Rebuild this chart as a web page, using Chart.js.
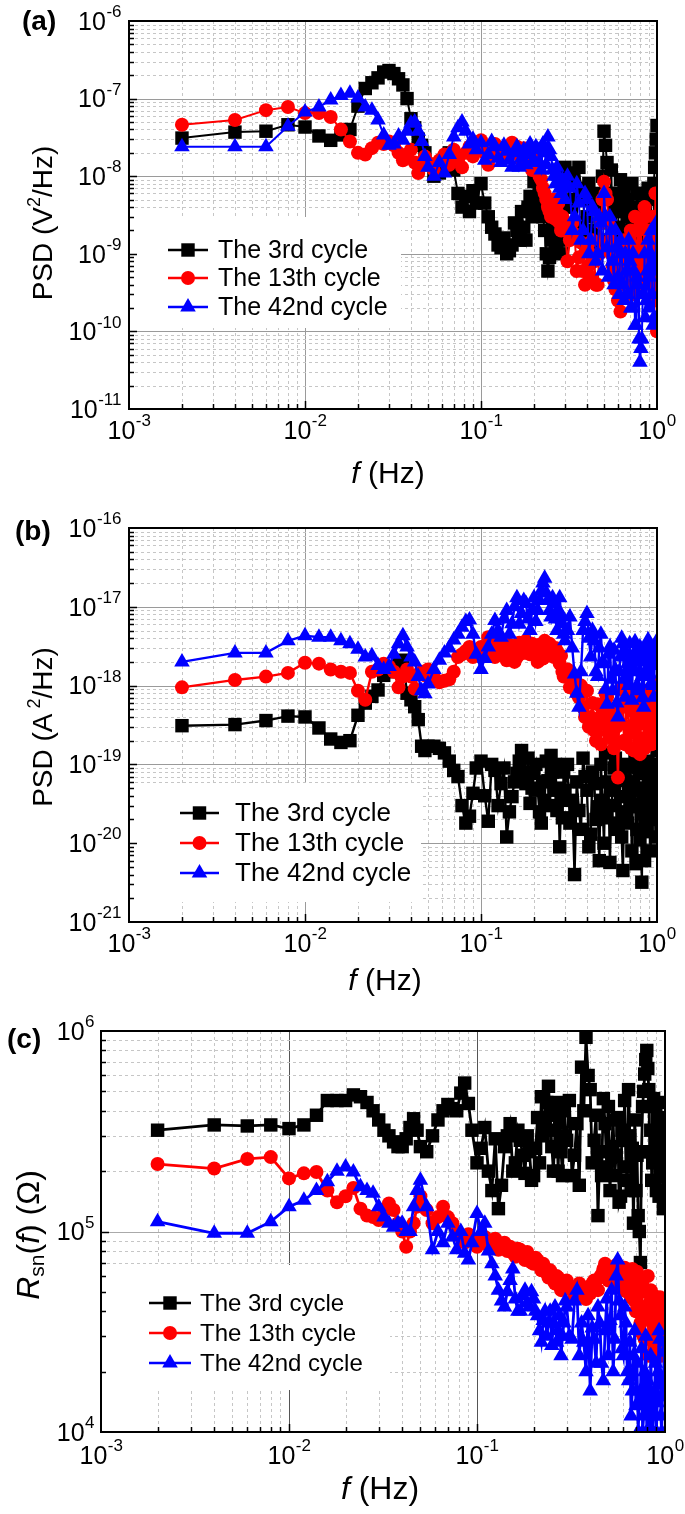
<!DOCTYPE html>
<html>
<head>
<meta charset="utf-8">
<script src="https://cdn.jsdelivr.net/npm/chart.js@4.4.0/dist/chart.umd.min.js"></script>
<style>
html, body { margin: 0; padding: 0; background: #fff; }
#wrap { position: relative; width: 685px; height: 1514px; }
canvas { position: absolute; left: 0; }
</style>
</head>
<body>
<div id="wrap">
  <canvas id="chartA" width="685" height="500" style="top:0px"></canvas>
  <canvas id="chartB" width="685" height="500" style="top:500px"></canvas>
  <canvas id="chartC" width="685" height="514" style="top:1000px"></canvas>
</div>
<script>
// frequency grid (Hz), shared by all series
var freq = [
  0.002,0.004,0.006,0.008,0.010,0.012,0.014,0.016,0.018,0.020,
  0.022,0.024,0.026,0.028,0.030,0.032,0.034,0.036,0.038,0.040,
  0.042,0.044,0.046,0.048,0.050,0.054,0.058,0.062,0.066,0.070,
  0.074,0.078,0.082,0.086,0.090,0.094,
  0.100,0.105,0.110,0.115,0.120,0.125,0.130,0.135,0.140,0.145,
  0.150,0.155,0.160,0.165,0.170,0.175,0.180,0.185,0.190,0.195,
  0.200,0.205,0.210,0.215,0.220,0.225,0.230,0.235,0.240,0.245,
  0.250,0.255,0.260,0.265,0.270,0.275,0.280,0.285,0.290,0.295,
  0.30,0.31,0.32,0.33,0.34,0.35,0.36,0.37,0.38,0.39,
  0.40,0.41,0.42,0.43,0.44,0.45,0.46,0.47,0.48,0.49,
  0.50,0.51,0.52,0.53,0.54,0.55,0.56,0.57,0.58,0.59,
  0.60,0.61,0.62,0.63,0.64,0.65,0.66,0.67,0.68,0.69,
  0.70,0.71,0.72,0.73,0.74,0.75,0.76,0.77,0.78,0.79,
  0.80,0.81,0.82,0.83,0.84,0.85,0.86,0.87,0.88,0.89,
  0.90,0.91,0.92,0.93,0.94,0.95,0.96,0.97,0.98,0.99,
  1.00
];

var seriesLabels = ['The 3rd cycle', 'The 13th cycle', 'The 42nd cycle'];

// (a) voltage PSD, V^2/Hz
var psdV3 = [
  3.1e-8,3.7e-8,3.8e-8,4.6e-8,4.3e-8,3.3e-8,2.9e-8,3.4e-8,4.0e-8,8.0e-8,
  1.35e-7,1.6e-7,1.85e-7,2.2e-7,2.3e-7,2.1e-7,1.8e-7,1.5e-7,1.0e-7,5.5e-8,
  4.2e-8,3.0e-8,2.5e-8,2.0e-8,1.4e-8,1.0e-8,1.1e-8,1.6e-8,2.0e-8,1.2e-8,
  6.0e-9,4.0e-9,5.5e-9,3.5e-9,6.5e-9,4.5e-9,
  8.0e-9,4.5e-9,3.0e-9,2.2e-9,1.8e-9,1.3e-9,1.2e-9,1.6e-9,1.0e-9,1.1e-9,
  1.3e-9,2.5e-9,2.0e-9,1.5e-9,3.5e-9,2.2e-9,1.5e-9,4.0e-9,5.5e-9,3.0e-9,
  8.5e-9,5.0e-9,4.0e-9,7.0e-9,6.0e-9,3.0e-9,2.0e-9,1.0e-9,6.0e-10,9.0e-10,
  1.5e-9,2.5e-9,3.5e-9,1.2e-9,1.8e-9,3.0e-9,2.5e-9,1.5e-9,1.0e-9,4.0e-9,
  1.3e-8,4.0e-9,8.0e-9,1.1e-8,5.0e-9,2.5e-9,1.3e-8,7.0e-9,6.0e-9,1.6e-9,
  3.0e-9,8.0e-9,5.0e-9,1.2e-9,2.0e-9,6.0e-9,4.0e-9,1.5e-9,2.5e-9,1.0e-8,
  3.8e-8,2.5e-8,1.5e-8,6.0e-9,3.0e-9,1.2e-8,1.8e-9,4.0e-9,6.0e-9,1.3e-9,
  2.2e-9,5.0e-9,9.0e-9,1.8e-9,3.5e-9,7.0e-9,1.5e-9,1.1e-9,5.0e-9,3.0e-9,
  2.0e-9,1.3e-9,8.0e-9,4.0e-9,2.5e-9,1.0e-9,1.2e-9,6.0e-9,4.0e-9,1.3e-9,
  1.6e-9,3.0e-9,6.0e-9,1.0e-9,2.0e-9,4.0e-9,1.1e-9,2.5e-9,3.0e-9,7.0e-9,
  1.5e-9,1.2e-9,5.0e-9,3.0e-9,2.0e-9,1.0e-9,8.0e-9,1.3e-8,2.0e-8,3.0e-8,
  4.5e-8
];
var psdV13 = [
  4.6e-8,5.3e-8,7.1e-8,7.8e-8,6.5e-8,6.5e-8,5.8e-8,4.0e-8,2.8e-8,2.0e-8,
  1.9e-8,2.3e-8,2.7e-8,2.6e-8,2.8e-8,2.5e-8,2.0e-8,1.6e-8,1.9e-8,2.2e-8,
  1.5e-8,1.1e-8,1.4e-8,1.8e-8,1.5e-8,1.2e-8,1.6e-8,1.9e-8,1.4e-8,2.2e-8,
  1.7e-8,1.3e-8,2.0e-8,2.4e-8,1.8e-8,2.5e-8,
  2.9e-8,2.0e-8,1.4e-8,1.8e-8,2.6e-8,2.3e-8,2.2e-8,1.9e-8,1.8e-8,2.4e-8,
  2.7e-8,2.0e-8,2.4e-8,1.9e-8,1.6e-8,2.3e-8,2.1e-8,1.7e-8,1.5e-8,1.2e-8,
  1.9e-8,1.5e-8,1.3e-8,1.0e-8,9.0e-9,7.0e-9,6.0e-9,5.0e-9,4.0e-9,3.5e-9,
  3.0e-9,4.0e-9,5.0e-9,2.8e-9,3.5e-9,4.5e-9,2.5e-9,2.0e-9,3.0e-9,2.5e-9,
  2.0e-9,8.0e-10,1.5e-9,2.5e-9,1.8e-9,6.0e-10,9.0e-10,1.4e-9,6.0e-10,4.0e-10,
  1.2e-9,7.0e-10,5.0e-10,1.5e-9,8.0e-10,4.0e-10,4.0e-10,1.0e-9,2.5e-9,5.0e-9,
  8.5e-9,6.0e-9,5.0e-9,2.5e-9,1.5e-9,1.0e-9,7.0e-10,4.5e-10,3.5e-10,6.0e-10,
  2.5e-10,4.0e-10,1.8e-10,9.0e-10,4.0e-10,1.5e-9,8.0e-10,4.0e-10,1.5e-9,9.0e-10,
  6.0e-10,2.0e-9,3.0e-10,7.0e-10,1.0e-9,3.0e-9,5.0e-10,1.2e-9,2.0e-9,4.0e-10,
  8.0e-10,2.5e-9,4.0e-10,6.0e-10,1.2e-9,4.0e-9,3.0e-9,7.0e-10,1.0e-9,2.0e-9,
  5.0e-10,1.5e-9,2.0e-9,4.0e-10,8.0e-10,3.0e-9,2.5e-10,1.0e-9,6.0e-9,3.0e-10,
  1.0e-10
];
var psdV42 = [
  2.4e-8,2.4e-8,2.4e-8,4.4e-8,6.7e-8,7.8e-8,9.6e-8,1.1e-7,1.17e-7,1.02e-7,
  7.8e-8,7.1e-8,5.3e-8,3.4e-8,2.5e-8,2.6e-8,3.3e-8,2.9e-8,3.8e-8,4.8e-8,
  5.0e-8,3.8e-8,2.8e-8,1.8e-8,1.3e-8,1.0e-8,1.5e-8,1.1e-8,1.9e-8,3.2e-8,
  4.2e-8,5.0e-8,3.8e-8,2.6e-8,3.0e-8,2.2e-8,
  2.7e-8,1.6e-8,1.9e-8,2.8e-8,2.4e-8,1.7e-8,1.5e-8,2.5e-8,2.1e-8,1.6e-8,
  1.3e-8,2.0e-8,2.4e-8,1.3e-8,1.7e-8,2.2e-8,1.4e-8,1.9e-8,2.6e-8,1.5e-8,
  1.6e-8,2.4e-8,2.2e-8,1.5e-8,1.2e-8,2.6e-8,2.0e-8,1.4e-8,3.2e-8,2.2e-8,
  1.8e-8,1.2e-8,1.0e-8,8.0e-9,1.3e-8,1.0e-8,7.0e-9,6.0e-9,9.0e-9,8.0e-9,
  5.0e-9,1.0e-8,7.0e-9,2.0e-9,3.0e-9,8.0e-9,4.5e-9,1.5e-9,2.0e-9,6.0e-9,
  5.0e-9,1.0e-9,1.5e-9,4.0e-9,3.5e-9,8.0e-10,1.0e-9,3.0e-9,2.5e-9,6.0e-10,
  6.0e-9,3.0e-9,1.2e-9,5.0e-10,3.0e-9,2.0e-9,8.0e-10,4.0e-10,2.0e-9,1.2e-9,
  5.0e-10,3.0e-10,1.5e-9,1.0e-9,4.0e-10,2.5e-10,1.0e-9,6.0e-10,3.0e-10,1.5e-9,
  8.0e-10,2.0e-10,2.0e-10,1.0e-9,6.0e-10,1.2e-10,1.2e-10,5.0e-10,4.0e-10,8.0e-11,
  4.0e-11,6.0e-11,8.0e-11,3.0e-10,3.0e-10,1.0e-9,1.5e-10,2.5e-10,6.0e-10,1.5e-9,
  2.0e-10,5.0e-10,1.0e-9,2.0e-9,3.0e-10,1.2e-10,1.5e-10,6.0e-10,8.0e-10,2.5e-9,
  2.0e-9
];

// (b) current PSD, A^2/Hz
var psdA3 = [
  3.1e-19,3.2e-19,3.6e-19,4.1e-19,4.0e-19,2.9e-19,2.1e-19,1.9e-19,2.0e-19,4.2e-19,
  6.0e-19,7.3e-19,8.8e-19,1.35e-18,1.5e-18,1.6e-18,1.9e-18,2.1e-18,8.0e-19,6.6e-19,
  5.4e-19,3.7e-19,1.7e-19,1.5e-19,1.7e-19,1.7e-19,1.6e-19,1.4e-19,1.1e-19,8.4e-20,
  7.0e-20,3.0e-20,1.8e-20,2.2e-20,4.3e-20,9.0e-20,
  1.1e-19,4.0e-20,1.9e-20,1.0e-19,8.4e-20,3.0e-20,5.7e-20,9.0e-20,1.2e-20,2.5e-20,
  3.9e-20,6.0e-20,7.7e-20,1.1e-19,1.5e-19,8.0e-20,5.7e-20,1.2e-19,3.2e-20,5.0e-20,
  7.7e-20,1.0e-19,4.7e-20,2.5e-20,1.8e-20,6.0e-20,3.5e-20,1.1e-19,6.2e-20,3.0e-20,
  1.3e-19,8.0e-20,4.7e-20,1.0e-19,2.6e-20,5.0e-20,9.0e-21,3.5e-20,2.1e-20,8.0e-20,
  4.7e-20,1.0e-19,1.8e-20,3.5e-20,4.0e-21,6.0e-20,2.6e-20,1.5e-20,1.2e-19,7.0e-20,
  4.7e-20,9.0e-21,1.3e-20,8.0e-20,5.7e-20,2.0e-20,2.9e-20,6.0e-21,1.0e-19,3.5e-20,
  1.0e-20,1.4e-19,2.1e-20,6.0e-20,5.7e-21,3.0e-20,4.7e-20,9.0e-20,1.2e-19,1.5e-20,
  1.8e-20,7.0e-20,3.9e-20,1.2e-20,4.5e-21,2.5e-20,6.2e-20,1.0e-19,1.8e-20,5.0e-20,
  9.2e-20,3.0e-20,8.0e-21,6.0e-20,2.9e-20,1.2e-19,5.5e-21,1.5e-20,4.7e-20,8.0e-20,
  1.1e-20,5.0e-20,3.2e-21,9.0e-20,2.6e-20,6.0e-21,7.7e-20,3.5e-20,1.4e-20,1.1e-19,
  4.7e-20,2.0e-20,8.0e-21,6.0e-20,1.0e-19,3.0e-20,2.6e-20,7.0e-20,1.2e-20,9.0e-20,
  1.5e-19
];
var psdA13 = [
  9.5e-19,1.18e-18,1.3e-18,1.45e-18,1.95e-18,1.9e-18,1.6e-18,1.5e-18,1.45e-18,8.6e-19,
  6.6e-19,1.5e-18,1.6e-18,1.9e-18,1.75e-18,1.5e-18,9.5e-19,1.3e-18,1.6e-18,1.3e-18,
  9.1e-19,1.4e-18,1.5e-18,1.35e-18,1.6e-18,1.3e-18,1.1e-18,1.15e-18,1.2e-18,1.5e-18,
  2.3e-18,2.5e-18,2.75e-18,3.1e-18,2.3e-18,2.5e-18,
  3.1e-18,2.5e-18,4.1e-18,3.0e-18,2.3e-18,3.8e-18,3.4e-18,2.6e-18,2.1e-18,3.3e-18,
  2.75e-18,2.0e-18,2.3e-18,3.5e-18,3.1e-18,2.6e-18,3.7e-18,2.9e-18,2.5e-18,3.4e-18,
  3.1e-18,2.4e-18,2.0e-18,3.3e-18,2.75e-18,2.2e-18,3.7e-18,2.9e-18,2.4e-18,3.4e-18,
  3.1e-18,2.6e-18,2.3e-18,3.0e-18,2.75e-18,2.2e-18,1.9e-18,2.4e-18,1.5e-18,1.3e-18,
  1.3e-18,1.6e-18,9.5e-19,1.1e-18,1.3e-18,8.0e-19,7.1e-19,1.0e-18,5.3e-19,4.0e-19,
  8.6e-19,3.0e-19,4.0e-19,6.0e-19,2.7e-19,2.0e-19,5.8e-19,3.5e-19,1.8e-19,4.5e-19,
  3.3e-19,8.0e-19,7.1e-19,2.5e-19,2.2e-19,5.0e-19,4.0e-19,1.6e-19,1.8e-19,3.0e-19,
  6.8e-20,5.0e-19,3.3e-19,9.0e-19,5.8e-19,2.0e-19,1.8e-19,6.0e-19,8.6e-19,3.0e-19,
  2.7e-19,1.6e-19,4.8e-19,7.0e-19,1.5e-19,2.5e-19,3.6e-19,5.0e-19,7.1e-19,2.0e-19,
  1.35e-19,4.0e-19,3.3e-19,8.0e-19,5.3e-19,1.6e-19,2.2e-19,6.0e-19,7.1e-19,3.0e-19,
  3.3e-19,9.0e-19,5.8e-19,1.8e-19,2.7e-19,6.0e-19,8.6e-19,2.5e-19,4.0e-19,7.0e-19,
  1.05e-18
];
var psdA42 = [
  2.0e-18,2.6e-18,2.6e-18,3.7e-18,4.3e-18,4.1e-18,4.1e-18,3.7e-18,3.4e-18,2.9e-18,
  2.3e-18,2.4e-18,1.8e-18,1.6e-18,1.75e-18,2.5e-18,3.4e-18,4.3e-18,3.1e-18,2.3e-18,
  2.0e-18,1.3e-18,8.6e-19,7.9e-19,1.05e-18,1.6e-18,2.1e-18,2.6e-18,3.0e-18,3.8e-18,
  4.5e-18,5.5e-18,6.5e-18,6.8e-18,4.5e-18,2.5e-18,
  1.6e-18,2.2e-18,3.1e-18,4.5e-18,6.7e-18,5.0e-18,4.1e-18,7.0e-18,9.0e-18,4.5e-18,
  6.1e-18,1.0e-17,1.3e-17,6.0e-18,8.2e-18,1.2e-17,1.1e-17,7.0e-18,5.0e-18,9.0e-18,
  1.3e-17,6.5e-18,9.0e-18,1.2e-17,1.6e-17,2.0e-17,2.3e-17,1.5e-17,1.2e-17,9.0e-18,
  7.4e-18,1.3e-17,1.1e-17,7.0e-18,5.0e-18,9.0e-18,1.3e-17,8.0e-18,6.1e-18,4.5e-18,
  3.7e-18,5.0e-18,7.4e-18,3.0e-18,1.4e-18,8.0e-19,5.3e-19,1.5e-18,5.0e-18,6.5e-18,
  8.2e-18,4.0e-18,2.3e-18,5.0e-18,3.7e-18,1.5e-18,1.3e-18,3.0e-18,4.5e-18,2.0e-18,
  1.9e-18,9.0e-19,5.8e-19,2.5e-18,3.1e-18,1.2e-18,8.6e-19,2.8e-18,1.6e-18,6.0e-19,
  4.0e-19,1.5e-18,2.3e-18,4.0e-18,3.4e-18,1.2e-18,7.1e-19,2.6e-18,1.9e-18,1.0e-18,
  3.4e-18,1.5e-18,6.5e-19,2.2e-18,1.6e-18,3.6e-18,2.8e-18,1.0e-18,8.6e-19,2.4e-18,
  3.1e-18,2.0e-18,1.3e-18,7.0e-19,5.3e-19,3.0e-18,2.5e-18,1.6e-18,1.3e-18,3.8e-18,
  3.4e-18,1.4e-18,1.05e-18,2.8e-18,2.3e-18,1.0e-18,7.1e-19,2.0e-18,3.1e-18,1.8e-18,
  3.7e-18
];

// (c) noise resistance, ohm
var rsn3 = [
  3.2e5,3.4e5,3.36e5,3.4e5,3.26e5,3.4e5,3.8e5,4.5e5,4.5e5,4.5e5,
  4.8e5,4.7e5,4.4e5,4.0e5,3.6e5,3.2e5,3.0e5,2.8e5,2.65e5,2.65e5,
  2.9e5,3.3e5,3.65e5,3.2e5,2.65e5,2.5e5,3.0e5,3.6e5,4.0e5,4.3e5,
  4.1e5,4.0e5,4.9e5,5.5e5,4.35e5,3.2e5,
  2.2e5,2.6e5,3.3e5,2.0e5,1.6e5,2.9e5,1.3e5,1.7e5,2.65e5,3.0e5,
  3.45e5,2.0e5,2.2e5,3.2e5,2.85e5,2.4e5,1.95e5,3.0e5,2.5e5,1.8e5,
  1.9e5,2.6e5,3.7e5,2.2e5,4.7e5,3.0e5,3.45e5,4.4e5,5.3e5,3.8e5,
  2.65e5,2.0e5,3.2e5,4.4e5,2.0e5,3.5e5,2.5e5,1.9e5,4.0e5,3.0e5,
  2.85e5,4.5e5,1.9e5,2.4e5,3.45e5,1.7e5,6.6e5,4.0e5,9.3e5,6.0e5,
  5.1e5,2.2e5,2.85e5,3.8e5,1.2e5,2.5e5,1.9e5,4.6e5,3.45e5,2.1e5,
  4.2e5,1.6e5,2.65e5,3.6e5,1.9e5,2.4e5,3.7e5,1.4e5,1.5e5,3.2e5,
  2.85e5,4.5e5,2.1e5,1.8e5,5.1e5,3.0e5,1.6e5,2.6e5,1.1e5,3.6e5,
  1.6e5,2.4e5,1.2e5,1.0e5,7.0e4,2.5e5,4.2e5,5.0e5,6.1e5,7.2e5,
  8.0e5,6.5e5,5.1e5,2.5e5,3.2e5,1.8e5,2.2e5,4.6e5,4.2e5,2.6e5,
  1.6e5,3.7e5,2.85e5,1.5e5,1.9e5,4.4e5,3.45e5,2.0e5,1.3e5,3.0e5,
  2.35e5
];
var rsn13 = [
  2.17e5,2.06e5,2.3e5,2.35e5,1.84e5,1.95e5,1.98e5,1.6e5,1.4e5,1.5e5,
  1.65e5,1.3e5,1.2e5,1.18e5,1.14e5,1.28e5,1.38e5,1.28e5,1.1e5,1.0e5,
  8.4e4,1.0e5,1.1e5,1.33e5,1.5e5,1.28e5,1.1e5,1.18e5,1.33e5,1.18e5,
  1.1e5,1.0e5,9.4e4,8.8e4,9.7e4,9.0e4,
  8.4e4,9.0e4,9.4e4,8.5e4,8.8e4,9.2e4,8.1e4,8.6e4,8.8e4,8.0e4,
  8.4e4,7.8e4,7.5e4,8.2e4,8.1e4,7.6e4,7.2e4,7.9e4,7.5e4,7.0e4,
  6.9e4,7.4e4,7.2e4,6.8e4,6.4e4,6.9e4,6.6e4,6.2e4,5.9e4,6.4e4,
  6.1e4,5.7e4,5.5e4,6.0e4,5.9e4,5.4e4,5.1e4,5.6e4,5.5e4,5.2e4,
  5.7e4,5.3e4,5.1e4,4.8e4,4.7e4,5.5e4,5.3e4,4.9e4,4.6e4,5.2e4,
  4.9e4,5.5e4,5.7e4,5.2e4,5.1e4,5.9e4,6.1e4,6.5e4,6.9e4,6.2e4,
  5.7e4,6.6e4,6.4e4,5.8e4,5.5e4,6.8e4,6.6e4,5.3e4,5.9e4,6.2e4,
  5.1e4,6.6e4,6.4e4,5.0e4,5.5e4,6.0e4,4.7e4,6.5e4,5.9e4,4.5e4,
  4.0e4,6.3e4,5.1e4,3.2e4,3.5e4,5.6e4,4.2e4,3.0e4,2.9e4,5.0e4,
  3.8e4,6.0e4,2.4e4,4.4e4,5.1e4,3.0e4,3.5e4,4.8e4,2.8e4,3.6e4,
  4.2e4,2.6e4,3.5e4,4.6e4,4.7e4,2.4e4,3.0e4,4.4e4,4.0e4,3.2e4,
  2.9e4
];
var rsn42 = [
  1.12e5,9.8e4,9.8e4,1.12e5,1.33e5,1.43e5,1.6e5,1.77e5,2.0e5,2.1e5,
  1.98e5,1.67e5,1.6e5,1.55e5,1.33e5,1.18e5,1.1e5,1.05e5,1.1e5,1.1e5,
  1.0e5,1.0e5,1.33e5,1.6e5,1.8e5,1.33e5,8.1e4,1.0e5,8.8e4,1.1e5,
  9.4e4,8.1e4,1.0e5,7.8e4,7.2e4,8.8e4,
  1.23e5,1.0e5,1.1e5,8.0e4,6.9e4,6.0e4,5.1e4,4.5e4,4.2e4,5.0e4,
  5.7e4,6.5e4,4.6e4,4.0e4,4.0e4,4.8e4,5.1e4,4.4e4,4.2e4,5.0e4,
  4.6e4,4.0e4,3.8e4,3.2e4,2.8e4,3.6e4,4.0e4,3.0e4,3.5e4,4.0e4,
  2.7e4,3.5e4,4.2e4,2.8e4,3.2e4,3.8e4,2.4e4,3.0e4,3.5e4,4.5e4,
  4.2e4,3.0e4,2.9e4,4.5e4,5.1e4,2.4e4,3.5e4,2.8e4,2.0e4,3.8e4,
  1.6e4,3.3e4,2.9e4,2.2e4,4.2e4,3.5e4,2.2e4,1.8e4,3.2e4,4.6e4,
  2.4e4,3.6e4,5.1e4,2.0e4,2.9e4,6.0e4,7.2e4,4.5e4,3.8e4,2.6e4,
  2.4e4,4.2e4,3.5e4,2.0e4,1.8e4,2.8e4,1.2e4,1.6e4,2.4e4,3.2e4,
  1.35e4,2.2e4,1.0e4,1.4e4,1.6e4,2.6e4,1.0e4,1.2e4,2.0e4,3.0e4,
  1.0e4,1.8e4,1.35e4,1.0e4,2.4e4,1.5e4,1.0e4,1.2e4,1.6e4,2.2e4,
  1.0e4,1.4e4,2.0e4,3.2e4,2.9e4,1.2e4,1.0e4,1.5e4,1.8e4,2.5e4,
  2.8e4
];

var xDecades = [-3, -2, -1, 0];
var yDecadesA = [-11, -10, -9, -8, -7, -6];
var yDecadesB = [-21, -20, -19, -18, -17, -16];
var yDecadesC = [4, 5, 6];

var FONT = '"Liberation Sans", Arial, Helvetica, sans-serif';
var colors = ['#000000', '#ff0000', '#0000ff'];
var markers = ['rect', 'circle', 'triangle'];
var markerRadius = [9.5, 7, 9];

function pts(vals) {
  return freq.map(function (f, i) { return { x: f, y: vals[i] }; });
}

// "10" with a raised exponent
function drawPow(ctx, exp, x, y, align, size) {
  var big = size + 'px ' + FONT;
  var small = Math.round(size * 0.66) + 'px ' + FONT;
  var e = String(exp);
  ctx.font = big;
  var w1 = ctx.measureText('10').width;
  ctx.font = small;
  var w2 = ctx.measureText(e).width;
  var x0 = align === 'right' ? x - w1 - w2 : (align === 'center' ? x - (w1 + w2) / 2 : x);
  ctx.fillStyle = '#000';
  ctx.textAlign = 'left';
  ctx.textBaseline = 'middle';
  ctx.font = big;
  ctx.fillText('10', x0, y);
  ctx.font = small;
  ctx.fillText(e, x0 + w1 + 0.5, y - size * 0.42);
}

// mixed-font text runs, centered on (x, y)
function drawRuns(ctx, runs, x, y) {
  var total = 0;
  runs.forEach(function (r) { ctx.font = r.f; r.w = ctx.measureText(r.t).width; total += r.w; });
  var cx = x - total / 2;
  ctx.fillStyle = '#000';
  ctx.textAlign = 'left';
  ctx.textBaseline = 'middle';
  runs.forEach(function (r) {
    ctx.font = r.f;
    ctx.fillText(r.t, cx, y + (r.dy || 0));
    cx += r.w;
  });
}

function drawMarker(ctx, style, r, x, y, color) {
  ctx.fillStyle = color;
  ctx.beginPath();
  if (style === 'rect') {
    var s = r * Math.SQRT1_2;
    ctx.rect(x - s, y - s, 2 * s, 2 * s);
  } else if (style === 'circle') {
    ctx.arc(x, y, r, 0, Math.PI * 2);
  } else {
    ctx.moveTo(x, y - r);
    ctx.lineTo(x + r * 0.866, y + r * 0.5);
    ctx.lineTo(x - r * 0.866, y + r * 0.5);
    ctx.closePath();
  }
  ctx.fill();
}

function decadeLoop(lo, hi, cb) {
  for (var n = lo; n < hi; n++) {
    for (var k = 1; k <= 9; k++) {
      if (k === 1 && n === lo) continue;
      cb(k * Math.pow(10, n), k === 1);
    }
  }
}

var decor = {
  id: 'decor',
  beforeDatasetsDraw: function (chart, args, o) {
    var ctx = chart.ctx, a = chart.chartArea, xs = chart.scales.x, ys = chart.scales.y;
    ctx.save();
    ctx.lineWidth = 1;
    decadeLoop(-3, 0, function (v, major) {
      var px = Math.round(xs.getPixelForValue(v)) + 0.5;
      ctx.setLineDash(major ? [] : [3, 3]);
      ctx.strokeStyle = major ? o.majorX : '#c6c6c6';
      ctx.beginPath(); ctx.moveTo(px, a.top); ctx.lineTo(px, a.bottom); ctx.stroke();
    });
    decadeLoop(o.yDec[0], o.yDec[o.yDec.length - 1], function (v, major) {
      var py = Math.round(ys.getPixelForValue(v)) + 0.5;
      ctx.setLineDash(major ? [] : [3, 3]);
      ctx.strokeStyle = major ? o.majorY : '#c6c6c6';
      ctx.beginPath(); ctx.moveTo(a.left, py); ctx.lineTo(a.right, py); ctx.stroke();
    });
    ctx.setLineDash([]);
    ctx.fillStyle = '#ffffff';
    var b = o.legendBox;
    ctx.fillRect(b[0], b[1], b[2] - b[0], b[3] - b[1]);
    ctx.restore();
  },
  afterDatasetsDraw: function (chart, args, o) {
    var ctx = chart.ctx, a = chart.chartArea, xs = chart.scales.x, ys = chart.scales.y;
    ctx.save();
    // frame and inward ticks
    ctx.strokeStyle = '#000';
    ctx.lineWidth = 2;
    ctx.strokeRect(a.left, a.top, a.right - a.left, a.bottom - a.top);
    ctx.lineWidth = 1.5;
    decadeLoop(-3, 0, function (v, major) {
      var px = Math.round(xs.getPixelForValue(v)) + 0.5;
      ctx.beginPath(); ctx.moveTo(px, a.bottom); ctx.lineTo(px, a.bottom - (major ? 8 : 5)); ctx.stroke();
    });
    decadeLoop(o.yDec[0], o.yDec[o.yDec.length - 1], function (v, major) {
      var py = Math.round(ys.getPixelForValue(v)) + 0.5;
      ctx.beginPath(); ctx.moveTo(a.left, py); ctx.lineTo(a.left + (major ? 8 : 5), py); ctx.stroke();
    });

    // tick labels
    xDecades.forEach(function (n) {
      drawPow(ctx, n, xs.getPixelForValue(Math.pow(10, n)), o.xLabelY, 'center', o.tickSize);
    });
    o.yDec.forEach(function (n) {
      drawPow(ctx, n, o.yLabelRight, ys.getPixelForValue(Math.pow(10, n)) + 2, 'right', o.tickSize);
    });

    // titles
    ctx.fillStyle = '#000';
    ctx.textBaseline = 'middle';
    ctx.textAlign = 'left';
    ctx.font = 'bold 28px ' + FONT;
    ctx.fillText(o.panel, o.panelX, o.panelY);
    drawRuns(ctx, o.xTitle, o.xTitleX, o.xTitleY);
    ctx.save();
    ctx.translate(o.yTitleX, o.yTitleY);
    ctx.rotate(-Math.PI / 2);
    drawRuns(ctx, o.yTitle, 0, 0);
    ctx.restore();

    // legend
    var L = o.legend;
    for (var i = 0; i < 3; i++) {
      var ly = L.rows[i];
      ctx.strokeStyle = colors[i];
      ctx.lineWidth = 2.5;
      ctx.beginPath(); ctx.moveTo(L.x1, ly); ctx.lineTo(L.x2, ly); ctx.stroke();
      drawMarker(ctx, markers[i], markerRadius[i], (L.x1 + L.x2) / 2, ly, colors[i]);
      ctx.fillStyle = '#000';
      ctx.font = L.size + 'px ' + FONT;
      ctx.textAlign = 'left';
      ctx.textBaseline = 'middle';
      ctx.fillText(seriesLabels[i], L.text, ly + 1);
    }
    ctx.restore();
  }
};

function makeChart(id, series, yMin, yMax, P, lw) {
  var H = document.getElementById(id).height;
  var datasets = series.map(function (vals, i) {
    return {
      label: seriesLabels[i],
      data: pts(vals),
      borderColor: colors[i],
      backgroundColor: colors[i],
      borderWidth: lw,
      pointStyle: markers[i],
      pointRadius: markerRadius[i],
      pointBorderWidth: 0,
      tension: 0,
      order: 3 - i
    };
  });
  return new Chart(document.getElementById(id), {
    type: 'line',
    data: { datasets: datasets },
    plugins: [decor],
    options: {
      responsive: false,
      animation: false,
      layout: { padding: { left: 0, top: P.top, right: 685 - P.right, bottom: 0 } },
      plugins: { legend: { display: false }, tooltip: { enabled: false }, decor: P },
      scales: {
        x: {
          type: 'logarithmic', min: 0.001, max: 1,
          grid: { display: false }, border: { display: false }, ticks: { display: false },
          afterFit: function (s) { s.height = H - P.bottom; }
        },
        y: {
          type: 'logarithmic', min: yMin, max: yMax,
          grid: { display: false }, border: { display: false }, ticks: { display: false },
          afterFit: function (s) { s.width = P.left; }
        }
      }
    }
  });
}

var titleFont = function (s, style) { return (style || '') + ' ' + s + 'px ' + FONT; };

makeChart('chartA', [psdV3, psdV13, psdV42], 1e-11, 1e-6, {
  left: 129, right: 657, top: 21, bottom: 409,
  yDec: yDecadesA, majorX: '#9a9a9a', majorY: '#9a9a9a',
  tickSize: 25, xLabelY: 432, yLabelRight: 121,
  panel: '(a)', panelX: 22, panelY: 22,
  xTitle: [{ t: 'f', f: titleFont(30, 'italic') }, { t: ' (Hz)', f: titleFont(30) }],
  xTitleX: 388, xTitleY: 475,
  yTitle: [{ t: 'PSD (V', f: titleFont(28) }, { t: '2', f: titleFont(18), dy: -9 }, { t: '/Hz)', f: titleFont(28) }],
  yTitleX: 44, yTitleY: 223,
  legendBox: [131, 217, 401, 328],
  legend: { x1: 168, x2: 208, text: 218, rows: [250, 278, 307], size: 25 }
}, 2);

makeChart('chartB', [psdA3, psdA13, psdA42], 1e-21, 1e-16, {
  left: 129, right: 657, top: 28, bottom: 422,
  yDec: yDecadesB, majorX: '#9a9a9a', majorY: '#9a9a9a',
  tickSize: 25, xLabelY: 445, yLabelRight: 121,
  panel: '(b)', panelX: 15, panelY: 32,
  xTitle: [{ t: 'f', f: titleFont(30, 'italic') }, { t: ' (Hz)', f: titleFont(30) }],
  xTitleX: 385, xTitleY: 482,
  yTitle: [{ t: 'PSD (A', f: titleFont(28) }, { t: ' 2', f: titleFont(18), dy: -9 }, { t: '/Hz)', f: titleFont(28) }],
  yTitleX: 44, yTitleY: 227,
  legendBox: [131, 283, 421, 402],
  legend: { x1: 180, x2: 219, text: 235, rows: [313, 343, 373], size: 26 }
}, 2.4);

makeChart('chartC', [rsn3, rsn13, rsn42], 1e4, 1e6, {
  left: 101, right: 665, top: 31, bottom: 432,
  yDec: yDecadesC, majorX: '#555555', majorY: '#aaaaaa',
  tickSize: 25, xLabelY: 457, yLabelRight: 94,
  panel: '(c)', panelX: 7, panelY: 40,
  xTitle: [{ t: 'f', f: titleFont(32, 'italic') }, { t: ' (Hz)', f: titleFont(32) }],
  xTitleX: 380, xTitleY: 490,
  yTitle: [
    { t: 'R', f: titleFont(32, 'italic') }, { t: 'sn', f: titleFont(21), dy: 8 },
    { t: '(', f: titleFont(32) }, { t: 'f', f: titleFont(32, 'italic') },
    { t: ') (\u03A9)', f: titleFont(32) }
  ],
  yTitleX: 30, yTitleY: 235,
  legendBox: [102, 265, 390, 390],
  legend: { x1: 149, x2: 191, text: 200, rows: [303, 333, 363], size: 24 }
}, 2.8);
</script>
</body>
</html>
